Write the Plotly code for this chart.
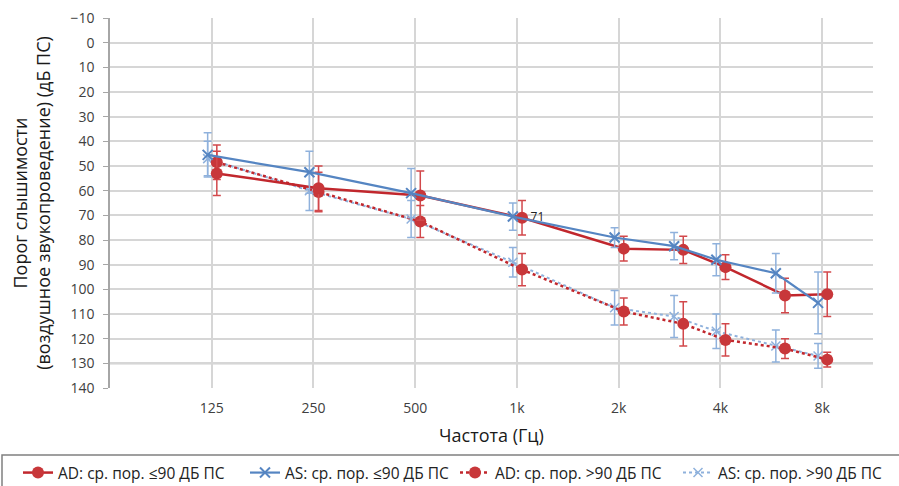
import numpy as np
import plotly.graph_objects as go

# Audiometric frequencies (Hz) and axis tick labels
freqs = [125, 250, 500, 1000, 2000, 3000, 4000, 6000, 8000]
tick_freqs = [125, 250, 500, 1000, 2000, 4000, 8000]
tick_labels = ["125", "250", "500", "1k", "2k", "4k", "8k"]

# Mean air-conduction thresholds (dB HL) and their spread
ad_le90 = [53, 59, 62, 71, 83.5, 84, 91, 102.5, 102]
ad_le90_err = [9, 9, 10, 7, 5, 5.5, 5, 7, 9]
as_le90 = [45.5, 52.5, 61, 70.5, 79, 82.5, 88, 93.5, 105.5]
as_le90_err = [9, 8.5, 10, 5.5, 4, 5.5, 6.5, 8, 12.5]
ad_gt90 = [48.5, 60.5, 72.5, 92, 109, 114, 120.5, 124, 128.5]
ad_gt90_err = [7, 8, 6.5, 6.5, 5.5, 9, 6.5, 4, 3]
as_gt90 = [47, 60, 71.5, 89, 107.5, 111, 117, 123, 127]
as_gt90_err = [7, 8, 7.5, 6, 7, 8.5, 7, 6.5, 5]

names = ["AD: ср. пор. ≤90 ДБ ПС", "AS: ср. пор. ≤90 ДБ ПС",
         "AD: ср. пор. >90 ДБ ПС", "AS: ср. пор. >90 ДБ ПС"]

RED = "#c1272d"
BLUE = "#5585c2"
LIGHT_BLUE = "#8fb1dc"

W, H = 899, 486
ML, MR, MT, MB = 110, 26, 18, 98

f = np.array(freqs, dtype=float)
# small horizontal nudge so the two ears don't sit on top of each other
f_right = f * 2 ** 0.05
f_left = f * 2 ** -0.04

labels_ad = ["71" if fr == 1000 else "" for fr in freqs]

fig = go.Figure()

fig.add_trace(go.Scatter(
    x=f_left, y=as_gt90, name=names[3], mode="lines+markers", legend="legend4",
    line=dict(color=LIGHT_BLUE, width=2, dash="dot"),
    marker=dict(symbol="x-thin", size=9, line=dict(color=LIGHT_BLUE, width=1.5)),
    error_y=dict(type="data", array=as_gt90_err, color=LIGHT_BLUE, thickness=1.5, width=4),
))
fig.add_trace(go.Scatter(
    x=f_right, y=ad_gt90, name=names[2], mode="lines+markers", legend="legend3",
    line=dict(color=RED, width=2.5, dash="dot"),
    marker=dict(symbol="circle", size=12, color="#c8373a"),
    error_y=dict(type="data", array=ad_gt90_err, color="#d2484b", thickness=1.5, width=4),
))
fig.add_trace(go.Scatter(
    x=f_right, y=ad_le90, name=names[0], mode="lines+markers+text", legend="legend",
    text=labels_ad, textposition="middle right",
    textfont=dict(family="Open Sans", size=12, color="#222222"),
    line=dict(color=RED, width=2.5),
    marker=dict(symbol="circle", size=12, color="#c8373a"),
    error_y=dict(type="data", array=ad_le90_err, color="#d2484b", thickness=1.5, width=4),
))
fig.add_trace(go.Scatter(
    x=f_left, y=as_le90, name=names[1], mode="lines+markers", legend="legend2",
    line=dict(color=BLUE, width=2.2),
    marker=dict(symbol="x-thin", size=10, line=dict(color=BLUE, width=2)),
    error_y=dict(type="data", array=as_le90_err, color=LIGHT_BLUE, thickness=1.5, width=4),
))

x_lo = np.log10(62.5)
x_hi = np.log10(8000 * 2 ** 0.5)


def legend_at(px_left):
    # one-entry legend placed along the bottom strip
    return dict(
        orientation="h", xref="container", yref="container",
        x=px_left / W, xanchor="left", y=1 - 456 / H, yanchor="top",
        bgcolor="rgba(0,0,0,0)", borderwidth=0,
        font=dict(family="Open Sans", size=15.5, color="#222222"),
    )


plot_h = H - MT - MB
plot_w = W - ML - MR

fig.update_layout(
    width=W, height=H,
    margin=dict(l=ML, r=MR, t=MT, b=MB, autoexpand=False),
    paper_bgcolor="white", plot_bgcolor="white",
    font=dict(family="Open Sans", size=14, color="#404040"),
    showlegend=True,
    legend=legend_at(18),
    legend2=legend_at(245),
    legend3=legend_at(455),
    legend4=legend_at(678),
    xaxis=dict(
        type="log", range=[x_lo, x_hi],
        tickvals=tick_freqs, ticktext=tick_labels,
        showgrid=True, gridcolor="#d6d6d6", gridwidth=1.5,
        showline=False, zeroline=False, ticks="",
        ticklabelstandoff=10,
        tickfont=dict(size=14, color="#404040"),
        title=dict(text="Частота (Гц)", font=dict(size=18, color="#1a1a1a"), standoff=13),
    ),
    yaxis=dict(
        range=[140, -10], tickmode="linear", tick0=-10, dtick=10,
        showgrid=True, gridcolor="#d6d6d6", gridwidth=1.5,
        showline=True, linecolor="#a6a6a6", linewidth=1.5,
        ticks="outside", ticklen=5, tickcolor="#a6a6a6",
        ticklabelstandoff=6,
        zeroline=False,
        tickfont=dict(size=14, color="#404040"),
        title=dict(text="Порог слышимости<br>(воздушное звукопроведение) (дБ ПС)",
                   font=dict(size=18, color="#1a1a1a"), standoff=15),
    ),
    shapes=[
        # category axis drawn across at 130 dB
        dict(type="line", xref="paper", yref="y", x0=0, x1=1, y0=130, y1=130,
             line=dict(color="#a0a0a0", width=1.8), layer="below"),
        # frame around the legend strip
        dict(type="rect", xref="paper", yref="paper",
             x0=(2 - ML) / plot_w, x1=(W + 6 - ML) / plot_w,
             y0=-(455 - (H - MB)) / plot_h, y1=-(H + 6 - (H - MB)) / plot_h,
             line=dict(color="#808080", width=1.5), fillcolor="rgba(0,0,0,0)"),
    ],
)

fig.write_html("out.html")
